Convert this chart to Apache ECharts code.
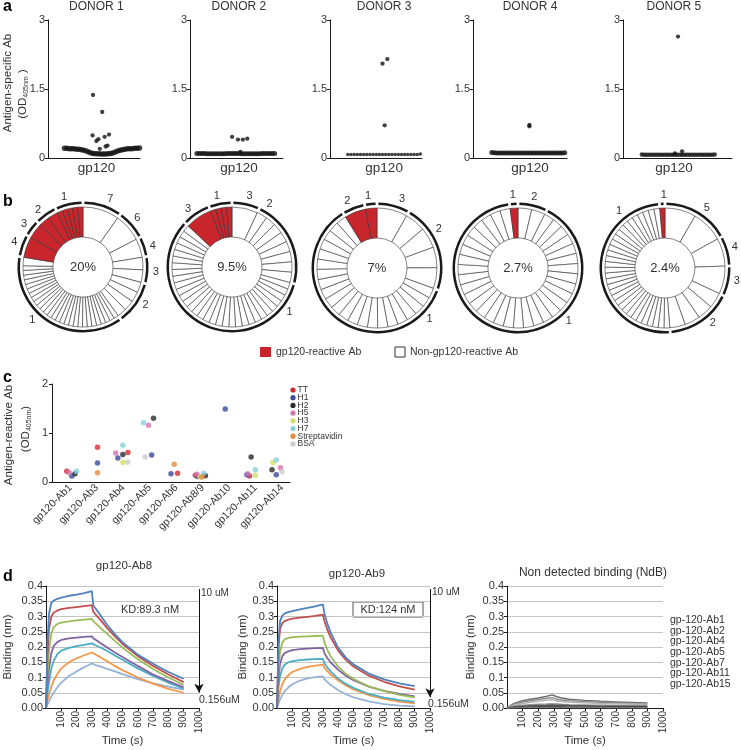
<!DOCTYPE html>
<html><head><meta charset="utf-8">
<script src="https://cdn.jsdelivr.net/npm/echarts@6/dist/echarts.min.js"></script>
<style>html,body{margin:0;padding:0;background:#fff}#c{width:741px;height:750px}</style>
</head><body><div id="c"></div>
<script>
// ================= DATA =================
// ---- panel a : antigen-specific Ab (OD405nm) per donor ----
const donorNames = ['DONOR 1','DONOR 2','DONOR 3','DONOR 4','DONOR 5'];
const antigenLabel = 'gp120';
// dense low-OD band, left to right
const d1Band = [0.21,0.21,0.2,0.2,0.2,0.19,0.19,0.18,0.17,0.15,0.13,0.11,0.1,0.09,0.09,0.085,0.085,0.085,0.09,0.1,0.11,0.13,0.15,0.17,0.18,0.19,0.2,0.2,0.2,0.21,0.21,0.22];
const d2Band = [0.1,0.1,0.1,0.1,0.095,0.095,0.095,0.095,0.095,0.095,0.095,0.095,0.1,0.1,0.1,0.1,0.1,0.1,0.095,0.095,0.095,0.095,0.095,0.095,0.095,0.095,0.1,0.1,0.1,0.1,0.1,0.1];
const d3Band = [0.075,0.075,0.075,0.075,0.075,0.075,0.075,0.075,0.075,0.075,0.075,0.075,0.075,0.075,0.075,0.075,0.075,0.075,0.075,0.075,0.075,0.075,0.075,0.085];
const d4Band = [0.12,0.115,0.11,0.11,0.11,0.11,0.11,0.11,0.11,0.11,0.11,0.11,0.11,0.11,0.11,0.11,0.11,0.11,0.11,0.11,0.11,0.11,0.11,0.11,0.11,0.11,0.11,0.11,0.11,0.115];
const d5Band = [0.075,0.07,0.07,0.07,0.07,0.07,0.07,0.07,0.07,0.07,0.07,0.07,0.07,0.07,0.07,0.07,0.07,0.07,0.07,0.07,0.07,0.07,0.07,0.07,0.07,0.07,0.07,0.07,0.07,0.075];
// outliers [jitter, OD]
const d1Out = [[-0.07,1.37],[0.12,1.0],[-0.08,0.49],[0.04,0.41],[0.17,0.46],[0.26,0.51],[0.0,0.37],[0.07,0.2],[0.19,0.25],[0.23,0.27]];
const d2Out = [[-0.14,0.46],[-0.02,0.4],[0.08,0.4],[0.17,0.42],[0.03,0.13]];
const d3Out = [[-0.03,2.05],[0.06,2.15],[0.01,0.71]];
const d4Out = [[-0.01,0.69],[-0.01,0.72]];
const d5Out = [[0.08,2.64],[0.16,0.145],[0.02,0.1]];

// ---- panel b : clone rings (clockwise from 12 o'clock); r = gp120-reactive ----
const pct = ['20%','9.5%','7%','2.7%','2.4%'];
const ring1 = [
  {l:'7',r:0,s:[35]},{l:'6',r:0,s:[27]},{l:'4',r:0,s:[18]},{l:'3',r:0,s:[12,12]},{l:'2',r:0,s:[10,10,10,9]},
  {l:'1',r:0,s:[4.5,4.5,4.5,4.5,4.5,4.5,4.5,4.5,4.5,4.5,4.5,4.5,4.5,4.5,4.5,4.5,4.5,4.5,4.5,4.5,4.5,4.5,4.5,4.5,4.5,4.5,4.5,4.5,8]},
  {l:'4',r:1,s:[20]},{l:'3',r:1,s:[15]},{l:'2',r:1,s:[10,10]},{l:'1',r:1,s:[5,5,5,5,5]}];
const ring2 = [
  {l:'3',r:0,s:[25]},{l:'2',r:0,s:[10,10,10,10,10,10,10,10]},
  {l:'1',r:0,s:[6.5,6.5,6.5,6.5,6.5,6.5,6.5,6.5,6.5,6.5,6.5,6.5,6.5,6.5,6.5,6.5,6.5,6.5,6.5,6.5,6.5,6.5,6.5,6.5,6.5,6.5,6.5,6.5,6.5,6.5,6.5,6.5]},
  {l:'3',r:1,s:[26]},{l:'1',r:1,s:[5.2,5.2,5.2,5.2]}];
const ring3 = [
  {l:'3',r:0,s:[29.5]},{l:'2',r:0,s:[20,20,20,20]},
  {l:'1',r:0,s:[9.9,9.9,9.9,9.9,9.9,9.9,9.9,9.9,9.9,9.9,9.9,9.9,9.9,9.9,9.9,9.9,9.9,9.9,9.9,9.9,9.9,9.9]},
  {l:'2',r:1,s:[20.5]},{l:'1',r:1,s:[11]}];
const ring4 = [
  {l:'2',r:0,s:[13,13]},
  {l:'1',r:0,s:[9.7,9.7,9.7,9.7,9.7,9.7,9.7,9.7,9.7,9.7,9.7,9.7,9.7,9.7,9.7,9.7,9.7,9.7,9.7,9.7,9.7,9.7,9.7,9.7,9.7,9.7,9.7,9.7,9.7,9.7,9.7,9.7,9.7]},
  {l:'1',r:1,s:[7.4]}];
const ring5 = [
  {l:'5',r:0,s:[30,31]},{l:'4',r:0,s:[27]},{l:'3',r:0,s:[27]},{l:'2',r:0,s:[15,15,15,15]},
  {l:'1',r:0,s:[5.6,5.6,5.6,5.6,5.6,5.6,5.6,5.6,5.6,5.6,5.6,5.6,5.6,5.6,5.6,5.6,5.6,5.6,5.6,5.6,5.6,5.6,5.6,5.6,5.6,5.6,5.6,5.6,5.6,5.6,5.6,5.6]},
  {l:'1',r:1,s:[5]}];
const legendB = ['gp120-reactive Ab','Non-gp120-reactive Ab'];

// ---- panel c : antigen-reactive Ab ----
const abCats = ['gp120-Ab1','gp120-Ab3','gp120-Ab4','gp120-Ab5','gp120-Ab6','gp120-Ab8/9','gp120-Ab10','gp120-Ab11','gp120-Ab14'];
const antigens = ['TT','H1','H2','H5','H3','H7','Streptavidin','BSA'];
// [category index, jitter, OD]
const ttPts   = [[0,-0.14,0.22],[1,0.02,0.71],[2,0.17,0.60],[4,0.05,0.18],[5,-0.28,0.14],[7,-0.23,0.12]];
const h1Pts   = [[0,0.05,0.12],[1,0.02,0.39],[2,-0.21,0.49],[3,0.07,0.55],[4,-0.2,0.17],[5,-0.2,0.11],[6,-0.15,1.49],[7,-0.33,0.15],[8,-0.22,0.15]];
const h2Pts   = [[0,0.17,0.17],[2,-0.02,0.56],[3,0.14,1.30],[5,0.1,0.13],[7,-0.17,0.51],[8,-0.38,0.25]];
const h5Pts   = [[0,-0.05,0.19],[2,-0.29,0.59],[3,-0.05,1.16],[5,-0.22,0.16],[7,-0.3,0.17],[8,-0.06,0.29]];
const h3Pts   = [[2,-0.02,0.40],[5,-0.1,0.1],[7,-0.01,0.14],[8,-0.34,0.40]];
const h7Pts   = [[0,0.23,0.22],[2,-0.02,0.75],[3,-0.24,1.21],[5,0.03,0.18],[7,-0.01,0.25],[8,-0.22,0.45]];
const strepPts= [[1,0.02,0.19],[4,-0.08,0.36],[5,-0.03,0.1]];
const bsaPts  = [[2,0.17,0.41],[3,-0.18,0.51],[8,0,0.21]];

// ---- panel d : binding kinetics (nm) ----
const tKin = [0,10,20,35,50,75,100,150,200,250,300,302,310,330,350,400,450,500,600,700,800,900];
const ab8Blue   = [0,0.22,0.31,0.345,0.352,0.358,0.362,0.368,0.372,0.377,0.383,0.37,0.335,0.322,0.308,0.272,0.242,0.216,0.175,0.145,0.118,0.096];
const ab8Red    = [0,0.18,0.26,0.3,0.312,0.32,0.324,0.328,0.331,0.334,0.337,0.33,0.315,0.303,0.292,0.262,0.235,0.21,0.17,0.138,0.11,0.085];
const ab8Green  = [0,0.12,0.19,0.245,0.265,0.276,0.28,0.284,0.287,0.29,0.292,0.29,0.284,0.275,0.265,0.243,0.22,0.198,0.16,0.128,0.1,0.076];
const ab8Purple = [0,0.08,0.13,0.18,0.203,0.217,0.223,0.228,0.231,0.233,0.235,0.233,0.228,0.222,0.215,0.198,0.182,0.167,0.138,0.11,0.088,0.068];
const ab8Cyan   = [0,0.05,0.085,0.13,0.155,0.177,0.188,0.197,0.203,0.207,0.212,0.21,0.207,0.204,0.2,0.187,0.172,0.158,0.13,0.105,0.083,0.063];
const ab8Orange = [0,0.025,0.045,0.07,0.09,0.112,0.13,0.15,0.163,0.173,0.182,0.18,0.178,0.174,0.168,0.153,0.138,0.124,0.1,0.08,0.063,0.05];
const ab8Light  = [0,0.012,0.022,0.038,0.05,0.068,0.083,0.105,0.12,0.134,0.146,0.145,0.143,0.14,0.137,0.128,0.12,0.111,0.095,0.081,0.07,0.06];
const ab9Blue   = [0,0.22,0.285,0.303,0.31,0.314,0.318,0.323,0.328,0.333,0.34,0.335,0.31,0.275,0.248,0.197,0.165,0.143,0.113,0.094,0.081,0.072];
const ab9Red    = [0,0.2,0.26,0.278,0.285,0.29,0.293,0.296,0.299,0.302,0.306,0.302,0.285,0.255,0.232,0.188,0.158,0.136,0.106,0.086,0.071,0.06];
const ab9Green  = [0,0.13,0.185,0.215,0.225,0.23,0.232,0.234,0.235,0.236,0.237,0.232,0.215,0.19,0.17,0.135,0.112,0.095,0.071,0.055,0.043,0.035];
const ab9Purple = [0,0.1,0.145,0.17,0.18,0.186,0.19,0.193,0.195,0.196,0.197,0.193,0.18,0.163,0.15,0.125,0.106,0.091,0.07,0.056,0.046,0.038];
const ab9Cyan   = [0,0.07,0.105,0.13,0.142,0.15,0.154,0.157,0.159,0.16,0.161,0.157,0.147,0.132,0.12,0.096,0.079,0.066,0.046,0.034,0.026,0.02];
const ab9Orange = [0,0.03,0.055,0.078,0.093,0.108,0.118,0.128,0.135,0.139,0.142,0.139,0.132,0.12,0.11,0.09,0.074,0.061,0.042,0.03,0.021,0.015];
const ab9Light  = [0,0.015,0.028,0.043,0.055,0.068,0.078,0.09,0.097,0.101,0.104,0.101,0.095,0.085,0.076,0.058,0.045,0.035,0.022,0.013,0.008,0.005];
const tNdb = [0,20,50,100,150,200,250,290,300,320,350,400,500,600,700,800,900];
const ndb1 = [0,0.008,0.016,0.024,0.029,0.033,0.038,0.043,0.042,0.037,0.033,0.029,0.025,0.022,0.02,0.018,0.016];
const ndb2 = [0,0.006,0.013,0.02,0.024,0.028,0.031,0.034,0.033,0.029,0.026,0.024,0.021,0.019,0.017,0.015,0.014];
const ndb3 = [0,0.005,0.01,0.015,0.019,0.022,0.025,0.027,0.026,0.023,0.021,0.019,0.017,0.015,0.014,0.013,0.012];
const ndb4 = [0,0.003,0.006,0.009,0.011,0.012,0.013,0.014,0.014,0.013,0.012,0.011,0.01,0.009,0.008,0.008,0.007];
const ndb5 = [0,0.002,0.004,0.006,0.007,0.008,0.009,0.01,0.01,0.009,0.009,0.008,0.007,0.006,0.006,0.005,0.005];
const ndb6 = [0,0.001,0.002,0.003,0.003,0.004,0.004,0.004,0.004,0.004,0.004,0.003,0.003,0.003,0.003,0.003,0.003];
const ndb7 = [0,0.001,0.001,0.002,0.002,0.002,0.002,0.002,0.002,0.002,0.002,0.002,0.002,0.002,0.001,0.001,0.001];
const ndbNames = ['gp-120-Ab1','gp-120-Ab2','gp-120-Ab4','gp-120-Ab5','gp-120-Ab7','gp-120-Ab11','gp-120-Ab15'];
const kinTitles = ['gp120-Ab8','gp120-Ab9','Non detected binding (NdB)'];
const kdTexts = ['KD:89.3 nM','KD:124 nM'];
const concTexts = ['10 uM','0.156uM'];

// ================= LAYOUT / STYLE =================
const FONT = "'Liberation Sans', Arial, Helvetica, sans-serif";
const INK = '#1a1a1a', TXT = '#333';
const layoutA = [
  {left:48, width:92, xmax:0.9, band:[-0.66,0.89], size:5.5},
  {left:190,width:93, xmax:0.9, band:[-0.86,0.73], size:5},
  {left:330,width:92, xmax:0.7, band:[-0.67,0.67], size:3.5},
  {left:473,width:94, xmax:0.65,band:[-0.67,0.61], size:5},
  {left:623,width:109,xmax:1.14,band:[-0.63,0.8],  size:4.5}];
const pieCenters = [[83,267],[232,267],[377,268],[518,268],[665,268]];
const arcLabelAngles = [[22,48,73,94,121,224,290,306,322,345],[14,31,128,323,348],[20,58,134,336,353],[13,136,356],[35,73,100,139,321,359]];
const antigenColors = ['#d42a2f','#3b4a9b','#2b2b2b','#d474b4','#d5df66','#86d0df','#e38b3a','#cdcdcd'];
const kinColors = ['#4f81bd','#c0504d','#9bbb59','#8064a2','#4bacc6','#f79646','#95b3d7'];
const ndbColors = ['#6e6e6e','#8c8c8c','#b4b4b4','#9a9a9a','#555','#444','#777'];
const RED = '#c9252c';

const grids=[], xAxes=[], yAxes=[], series=[], graphics=[];
function txt(x,y,text,size,o={}){
  return {type:'text', x, y, rotation:o.rot||0, silent:true, z:100,
    style:{text, fontSize:size, fontFamily:FONT, fill:o.color||TXT, fontWeight:o.bold?'bold':'normal',
      align:o.align||'center', verticalAlign:o.va||'middle', rich:o.rich, lineHeight:o.lh}};
}
const axLine = () => ({show:true, onZero:false, lineStyle:{color:INK, width:1}});

// ---------- panel a ----------
const bands=[d1Band,d2Band,d3Band,d4Band,d5Band], outs=[d1Out,d2Out,d3Out,d4Out,d5Out];
layoutA.forEach((L,i)=>{
  grids.push({left:L.left, top:20, width:L.width, height:138});
  xAxes.push({gridIndex:i, type:'value', min:-1, max:L.xmax, interval:1, axisLine:axLine(), axisTick:{show:false}, splitLine:{show:false},
    axisLabel:{fontSize:13.5, color:TXT, fontFamily:FONT, margin:3, formatter:v=>v===0?antigenLabel:''}});
  yAxes.push({gridIndex:i, type:'value', min:0, max:3, interval:1.5, axisLine:axLine(), axisTick:{show:true,length:3,lineStyle:{color:INK}}, splitLine:{show:false},
    axisLabel:{fontSize:11, color:TXT, fontFamily:FONT, margin:3}});
  const b = bands[i];
  const pts = b.map((y,k)=>[L.band[0]+k*(L.band[1]-L.band[0])/(b.length-1), y]);
  series.push({type:'scatter', xAxisIndex:i, yAxisIndex:i, data:pts, symbolSize:L.size, itemStyle:{color:'#111'}, silent:true});
  series.push({type:'scatter', xAxisIndex:i, yAxisIndex:i, data:outs[i], symbolSize:4.3, itemStyle:{color:'#111'}, silent:true});
  const zx = L.left + L.width*(1/(1+L.xmax));
  graphics.push(txt(zx, 7, donorNames[i], 12));
});
graphics.push(txt(3, 7, 'a', 16, {bold:true, align:'left', color:'#000'}));
graphics.push(txt(8, 83, 'Antigen-specific Ab', 11.5, {rot:Math.PI/2}));
graphics.push(txt(23, 94, '(OD{s|405nm} )', 11.5, {rot:Math.PI/2, rich:{s:{fontSize:7, fontFamily:FONT, fill:TXT, verticalAlign:'bottom', padding:[6,0,0,0]}}}));

// ---------- panel b ----------
const rings=[ring1,ring2,ring3,ring4,ring5];
rings.forEach((ring,i)=>{
  const c = pieCenters[i];
  const slices=[];
  ring.forEach(g=>g.s.forEach(v=>slices.push({value:v, itemStyle:{color:g.r?RED:'#fff'}})));
  series.push({type:'pie', center:c, radius:[30,60], startAngle:90, clockwise:true, silent:true, data:slices,
    label:{show:false}, labelLine:{show:false}, itemStyle:{borderColor:'#333', borderWidth:0.6}, emphasis:{disabled:true}});
  const arcs = ring.map(g=>({value:g.s.reduce((a,b)=>a+b,0)}));
  series.push({type:'pie', center:c, radius:[63,65.5], startAngle:90, clockwise:true, silent:true, padAngle:2.5, data:arcs,
    label:{show:false}, labelLine:{show:false}, itemStyle:{color:'#1a1a1a', borderWidth:0}, emphasis:{disabled:true}});
  ring.forEach((g,k)=>{
    const a = arcLabelAngles[i][k]*Math.PI/180;
    graphics.push(txt(c[0]+73*Math.sin(a), c[1]-73*Math.cos(a), g.l, 11));
  });
  graphics.push(txt(c[0], c[1], pct[i], 13));
});
graphics.push(txt(3, 202, 'b', 16, {bold:true, align:'left', color:'#000'}));
graphics.push({type:'rect', shape:{x:260,y:347,width:11,height:10}, style:{fill:RED}, silent:true});
graphics.push(txt(276, 352.5, legendB[0], 10.5, {align:'left'}));
graphics.push({type:'rect', shape:{x:395,y:347,width:10,height:10}, style:{fill:'#fff', stroke:'#333', lineWidth:1}, silent:true});
graphics.push(txt(410, 352.5, legendB[1], 10.5, {align:'left'}));

// ---------- panel c ----------
grids.push({left:52, top:384, width:238, height:98});
xAxes.push({gridIndex:5, type:'value', min:-0.7, max:8.3, axisLine:axLine(), axisTick:{show:false}, splitLine:{show:false},
  axisLabel:{customValues:abCats.map((_,k)=>k), formatter:v=>abCats[Math.round(v)]||'', rotate:45, fontSize:10.5, color:TXT, fontFamily:FONT, margin:4}});
yAxes.push({gridIndex:5, type:'value', min:0, max:2, interval:1, axisLine:axLine(), axisTick:{show:true,length:3,lineStyle:{color:INK}}, splitLine:{show:false},
  axisLabel:{fontSize:11, color:TXT, fontFamily:FONT, margin:4}});
[ttPts,h1Pts,h2Pts,h5Pts,h3Pts,h7Pts,strepPts,bsaPts].forEach((arr,k)=>{
  series.push({type:'scatter', name:antigens[k], xAxisIndex:5, yAxisIndex:5, symbolSize:5.5, silent:true,
    itemStyle:{color:antigenColors[k]}, data:arr.map(p=>[p[0]+p[1], p[2]])});
  graphics.push({type:'circle', shape:{cx:293, cy:390+7.7*k, r:2.6}, style:{fill:antigenColors[k]}, silent:true});
  graphics.push(txt(297.5, 390+7.7*k, antigens[k], 8.5, {align:'left'}));
});
graphics.push(txt(3, 378, 'c', 16, {bold:true, align:'left', color:'#000'}));
graphics.push(txt(9, 435, 'Antigen-reactive Ab', 11.5, {rot:Math.PI/2}));
graphics.push(txt(26, 429, '(OD{s|405nm})', 11.5, {rot:Math.PI/2, rich:{s:{fontSize:7, fontFamily:FONT, fill:TXT, verticalAlign:'bottom', padding:[6,0,0,0]}}}));

// ---------- panel d ----------
const kinGrids = [{left:46,width:153},{left:277,width:153},{left:507,width:156}];
const yFmt = v => { const r=Math.round(v*100)/100; return r===0?'0.00':(r===0.05?'0.05':String(r)); };
kinGrids.forEach((G,j)=>{
  const gi = 6+j;
  grids.push({left:G.left, top:586, width:G.width, height:122});
  xAxes.push({gridIndex:gi, type:'value', min:0, max:1000, interval:100, axisLine:axLine(), axisTick:{show:true,length:3,lineStyle:{color:INK}}, splitLine:{show:false},
    axisLabel:{rotate:90, fontSize:10, color:TXT, fontFamily:FONT, margin:3, showMinLabel:false, formatter:v=>String(Math.round(v))},
    name:'Time (s)', nameLocation:'middle', nameGap:27, nameMoveOverlap:false, nameTextStyle:{fontSize:11.5, color:TXT, fontFamily:FONT}});
  yAxes.push({gridIndex:gi, type:'value', min:0, max:0.4, interval:0.05, axisLine:axLine(), axisTick:{show:true,length:3,lineStyle:{color:INK}},
    splitLine:{show:true, lineStyle:{color:'#c4c4c4', width:1}}, axisLabel:{fontSize:11, color:TXT, fontFamily:FONT, margin:3, formatter:yFmt}});
  graphics.push(txt([8,243,471][j], 647, 'Binding (nm)', 11.5, {rot:Math.PI/2}));
});
const ab8 = [ab8Blue,ab8Red,ab8Green,ab8Purple,ab8Cyan,ab8Orange,ab8Light];
const ab9 = [ab9Blue,ab9Red,ab9Green,ab9Purple,ab9Cyan,ab9Orange,ab9Light];
const arrowEnds = [0.05, 0.035];
[ab8,ab9].forEach((set,j)=>{
  set.slice().reverse().forEach((ys,kk)=>{
    const k = set.length-1-kk;
    const s = {type:'line', xAxisIndex:6+j, yAxisIndex:6+j, showSymbol:false, silent:true, smooth:false,
      lineStyle:{width:1.8, color:kinColors[k]}, data:tKin.map((t,n)=>[t, ys[n]])};
    if (kk===0) s.markLine = {silent:true, symbol:['none','arrow'], symbolSize:[7,9], label:{show:false},
      lineStyle:{color:'#111', width:1, type:'solid'}, data:[[{coord:[1000,0.39]},{coord:[1000,arrowEnds[j]]}]]};
    series.push(s);
  });
});
[ndb1,ndb2,ndb3,ndb4,ndb5,ndb6,ndb7].forEach((ys,k)=>{
  series.push({type:'line', xAxisIndex:8, yAxisIndex:8, showSymbol:false, silent:true,
    lineStyle:{width:1.5, color:ndbColors[k]}, data:tNdb.map((t,n)=>[t, ys[n]])});
});
graphics.push(txt(3, 577, 'd', 16, {bold:true, align:'left', color:'#000'}));
graphics.push(txt(124, 566, kinTitles[0], 11.5));
graphics.push(txt(357, 574, kinTitles[1], 11.5));
graphics.push(txt(593, 573, kinTitles[2], 12));
graphics.push(txt(150, 610, kdTexts[0], 11));
graphics.push({type:'rect', shape:{x:353,y:602,width:70,height:15}, style:{fill:'none', stroke:'#555', lineWidth:1}, silent:true});
graphics.push(txt(388, 609.5, kdTexts[1], 11));
graphics.push(txt(201, 593, concTexts[0], 10, {align:'left'}));
graphics.push(txt(199, 700, concTexts[1], 10.5, {align:'left'}));
graphics.push(txt(432, 592, concTexts[0], 10, {align:'left'}));
graphics.push(txt(428, 704, concTexts[1], 10.5, {align:'left'}));
graphics.push(txt(670, 615, ndbNames.join('\n'), 10.5, {align:'left', va:'top', lh:10.6}));

const chart = echarts.init(document.getElementById('c'), null, {renderer:'canvas'});
chart.setOption({animation:false, backgroundColor:'#fff', grid:grids, xAxis:xAxes, yAxis:yAxes, series, graphic:{elements:graphics}});
</script></body></html>
